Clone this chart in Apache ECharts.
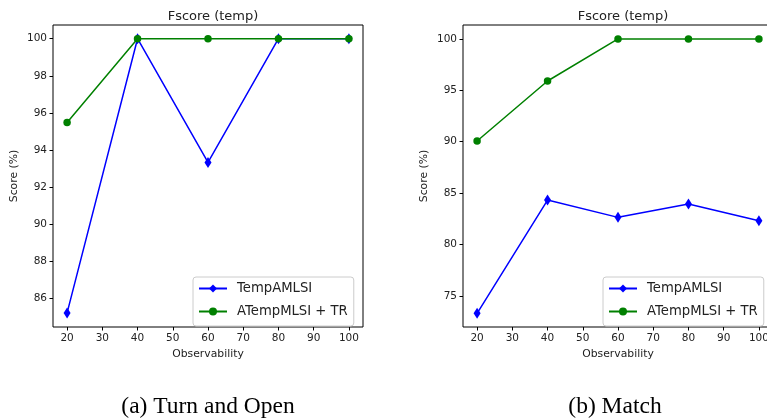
<!DOCTYPE html>
<html>
<head>
<meta charset="utf-8">
<script src="https://cdn.jsdelivr.net/npm/echarts@6/dist/echarts.min.js"></script>
<style>html,body{margin:0;padding:0;background:#fff}#c{width:767px;height:418px}</style>
</head>
<body>
<div id="c"></div>
<script>
const observability = [20, 40, 60, 80, 100];
const xTicks = [20, 30, 40, 50, 60, 70, 80, 90, 100];
// (a) Turn and Open
const leftTemp = [85.22, 100, 93.33, 100, 100];
const leftATemp = [95.48, 100, 100, 100, 100];
const leftYTicks = [86, 88, 90, 92, 94, 96, 98, 100];
// (b) Match
const rightTemp = [73.3, 84.32, 82.64, 83.93, 82.31];
const rightATemp = [90.07, 95.91, 100, 100, 100];
const rightYTicks = [75, 80, 85, 90, 95, 100];
const seriesNames = ['TempAMLSI', 'ATempMLSI + TR'];
const plotTitle = 'Fscore (temp)';
const captions = ['(a) Turn and Open', '(b) Match'];
const xName = 'Observability';
const yName = 'Score (%)';

const font = 'DejaVu Sans';
const chart = echarts.init(document.getElementById('c'), null, {renderer: 'canvas'});

function xAxis(gi) {
  return {
    type: 'value', gridIndex: gi, min: 16, max: 104,
    name: xName, nameLocation: 'middle', nameGap: 21,
    nameTextStyle: {fontFamily: font, fontSize: 10.8, color: '#222'},
    axisLine: {show: false},
    axisTick: {show: true, length: 3.5, lineStyle: {color: '#000'}, customValues: xTicks},
    axisLabel: {fontFamily: font, fontSize: 10.5, color: '#222', margin: 6, customValues: xTicks},
    splitLine: {show: false}
  };
}
function yAxis(gi, mn, mx, ticks) {
  return {
    type: 'value', gridIndex: gi, min: mn, max: mx,
    name: yName, nameLocation: 'middle', nameGap: 33,
    nameTextStyle: {fontFamily: font, fontSize: 10.8, color: '#222'},
    axisLine: {show: false},
    axisTick: {show: true, length: 3.5, lineStyle: {color: '#000'}, customValues: ticks},
    axisLabel: {fontFamily: font, fontSize: 10.5, color: '#222', margin: 6, customValues: ticks},
    splitLine: {show: false}
  };
}
function mk(name, data, gi, isTemp) {
  return {
    name: name, type: 'line', xAxisIndex: gi, yAxisIndex: gi,
    data: observability.map((x, i) => [x, data[i]]),
    symbol: isTemp ? 'diamond' : 'circle',
    symbolSize: isTemp ? [7, 11] : 7.5,
    showAllSymbol: true,
    itemStyle: {color: isTemp ? '#0000ff' : '#008000'},
    lineStyle: {color: isTemp ? '#0000ff' : '#008000', width: 1.5},
    animation: false
  };
}
function legend(left) {
  return {
    left: left, top: 277, orient: 'vertical',
    data: seriesNames,
    itemWidth: 28, itemHeight: 10, itemGap: 10,
    padding: [5, 6, 8, 5],
    backgroundColor: '#fff', borderColor: '#ccc', borderWidth: 1, borderRadius: 3,
    textStyle: {fontFamily: font, fontSize: 13.2, color: '#222', padding: [0, 0, 0, 5]},
    selectedMode: false
  };
}
const option = {
  animation: false,
  backgroundColor: '#fff',
  title: [
    {text: plotTitle, left: 208, top: 5, textAlign: 'center', textStyle: {fontFamily: font, fontSize: 13, fontWeight: 'normal', color: '#222'}},
    {text: plotTitle, left: 618, top: 5, textAlign: 'center', textStyle: {fontFamily: font, fontSize: 13, fontWeight: 'normal', color: '#222'}},
    {text: captions[0], left: 203, top: 390, textAlign: 'center', textStyle: {fontFamily: 'Liberation Serif', fontSize: 23.5, fontWeight: 'normal', color: '#000'}},
    {text: captions[1], left: 610, top: 390, textAlign: 'center', textStyle: {fontFamily: 'Liberation Serif', fontSize: 23.5, fontWeight: 'normal', color: '#000'}}
  ],
  grid: [
    {left: 53, top: 25, width: 310, height: 302, show: true, borderColor: '#000', borderWidth: 1, backgroundColor: 'transparent', outerBoundsMode: 'none', containLabel: false},
    {left: 463, top: 25, width: 310, height: 302, show: true, borderColor: '#000', borderWidth: 1, backgroundColor: 'transparent', outerBoundsMode: 'none', containLabel: false}
  ],
  xAxis: [xAxis(0), xAxis(1)],
  yAxis: [yAxis(0, 84.46, 100.74, leftYTicks), yAxis(1, 71.97, 101.36, rightYTicks)],
  legend: [legend(193), legend(603)],
  series: [
    mk(seriesNames[0], leftTemp, 0, true),
    mk(seriesNames[1], leftATemp, 0, false),
    mk(seriesNames[0], rightTemp, 1, true),
    mk(seriesNames[1], rightATemp, 1, false)
  ]
};
chart.setOption(option);
</script>
</body>
</html>
